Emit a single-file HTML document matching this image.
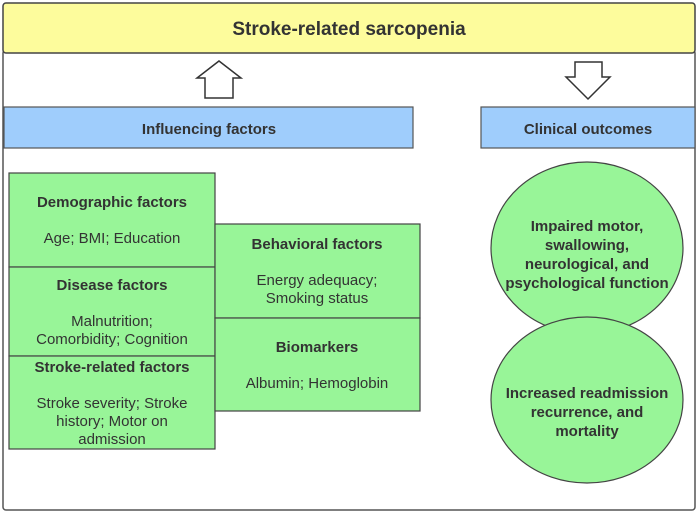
<!DOCTYPE html>
<html><head><style>body{margin:0;background:#fff}</style></head><body>
<svg width="699" height="513" xmlns="http://www.w3.org/2000/svg" font-family="Liberation Sans, DejaVu Sans, sans-serif" fill="#333">
<rect x="3" y="50" width="692" height="460" rx="3" fill="#fff" stroke="#555" stroke-width="1.5"/>
<rect x="3" y="3" width="692" height="50" rx="3" fill="#fdfc9c" stroke="#444" stroke-width="1.5"/>
<text x="349" y="35" text-anchor="middle" font-size="19" font-weight="bold" fill="#333">Stroke-related sarcopenia</text>
<polygon points="219,61 241,78 233,78 233,98 205,98 205,78 197,78" fill="#fff" stroke="#333" stroke-width="1.5"/>
<polygon points="588,99 610,77 602,77 602,62 575,62 575,77 566,77" fill="#fff" stroke="#333" stroke-width="1.5"/>
<rect x="4" y="107" width="409" height="41" fill="#9fcdfc" stroke="#555" stroke-width="1.2"/>
<text x="209" y="134" text-anchor="middle" font-size="15" font-weight="bold">Influencing factors</text>
<rect x="481" y="107" width="214" height="41" fill="#9fcdfc" stroke="#555" stroke-width="1.2"/>
<text x="588" y="134" text-anchor="middle" font-size="15" font-weight="bold">Clinical outcomes</text>
<g fill="#98f598" stroke="#444" stroke-width="1.2">
<rect x="9" y="173" width="206" height="94"/>
<rect x="9" y="267" width="206" height="89"/>
<rect x="9" y="356" width="206" height="93"/>
<rect x="215" y="224" width="205" height="94"/>
<rect x="215" y="318" width="205" height="93"/>
<ellipse cx="587" cy="248" rx="96" ry="86"/>
<ellipse cx="587" cy="400" rx="96" ry="83"/>
</g>
<g text-anchor="middle" font-size="15">
<text x="112" y="207" font-weight="bold">Demographic factors</text>
<text x="112" y="243">Age; BMI; Education</text>
<text x="112" y="290" font-weight="bold">Disease factors</text>
<text x="112" y="326">Malnutrition;</text>
<text x="112" y="344">Comorbidity; Cognition</text>
<text x="112" y="372" font-weight="bold">Stroke-related factors</text>
<text x="112" y="408">Stroke severity; Stroke</text>
<text x="112" y="426">history; Motor on</text>
<text x="112" y="444">admission</text>
<text x="317" y="249" font-weight="bold">Behavioral factors</text>
<text x="317" y="285">Energy adequacy;</text>
<text x="317" y="303">Smoking status</text>
<text x="317" y="352" font-weight="bold">Biomarkers</text>
<text x="317" y="388">Albumin; Hemoglobin</text>
<g font-weight="bold">
<text x="587" y="231">Impaired motor,</text>
<text x="587" y="250">swallowing,</text>
<text x="587" y="269">neurological, and</text>
<text x="587" y="288">psychological function</text>
<text x="587" y="398">Increased readmission</text>
<text x="587" y="417">recurrence, and</text>
<text x="587" y="436">mortality</text>
</g>
</g>
</svg>
</body></html>
